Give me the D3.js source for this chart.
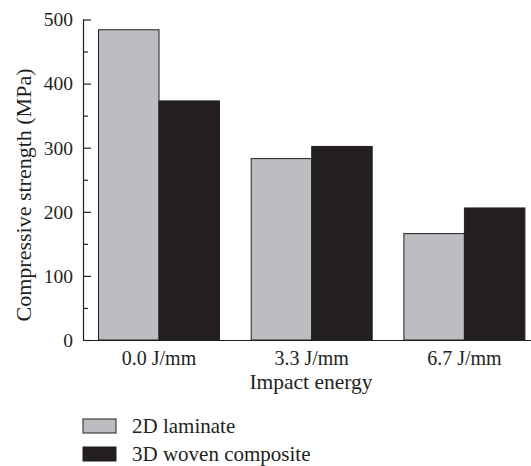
<!DOCTYPE html>
<html><head><meta charset="utf-8">
<script src="https://cdn.jsdelivr.net/npm/d3@7"></script>
<style>
html,body{margin:0;padding:0;background:#fff;}
svg{display:block;font-family:"Liberation Serif","DejaVu Serif",serif;}
</style></head>
<body>
<svg id="c" width="531" height="466"></svg>
<script>
const categories = ["0.0 J/mm", "3.3 J/mm", "6.7 J/mm"];
const seriesNames = ["2D laminate", "3D woven composite"];
const laminate2D = [484, 283, 166];
const woven3D = [373, 302, 206];
const yTicks = [0, 100, 200, 300, 400, 500];
const yMinorTicks = [50, 150, 250, 350, 450];
const colors = ["#bcbdc1", "#231f20"];

const svg = d3.select("#c");
const x0 = d3.scaleBand().domain(categories).range([83, 540.4]).paddingInner(0.2076).paddingOuter(0.1015);
const x1 = d3.scaleBand().domain(seriesNames).range([0, x0.bandwidth()]);
const y = d3.scaleLinear().domain([0, 500]).range([340, 19.5]);

const series = [laminate2D, woven3D];
const g = svg.append("g");
categories.forEach((c, i) => {
  series.forEach((s, j) => {
    g.append("rect")
      .attr("x", x0(c) + x1(seriesNames[j]))
      .attr("y", y(s[i]))
      .attr("width", x1.bandwidth())
      .attr("height", y(0) - y(s[i]))
      .attr("fill", colors[j])
      .attr("stroke", "#231f20")
      .attr("stroke-width", 1);
  });
});

// Y axis with inward ticks
const yAxis = d3.axisRight(y).tickValues(yTicks).tickSize(8).tickFormat("");
const ya = svg.append("g").attr("transform", "translate(83,0)").call(yAxis);
ya.select(".domain").attr("d", `M0.5,${y(500)}V${y(0)}`).attr("stroke", "#231f20").attr("stroke-width", 1.2);
ya.selectAll(".tick line").attr("stroke", "#231f20").attr("stroke-width", 1.2);
const yMinor = d3.axisRight(y).tickValues(yMinorTicks).tickSize(5).tickFormat("");
const ym = svg.append("g").attr("transform", "translate(83,0)").call(yMinor);
ym.select(".domain").remove();
ym.selectAll(".tick line").attr("stroke", "#231f20").attr("stroke-width", 1.2);
svg.append("g").selectAll("text").data(yTicks).join("text")
  .attr("x", 73).attr("y", d => y(d)).attr("dy", "0.35em")
  .attr("text-anchor", "end").attr("font-size", 19.5).attr("fill", "#231f20")
  .text(d => d);

// X axis
const xAxis = d3.axisBottom(x0).tickSize(0).tickFormat("");
const xa = svg.append("g").attr("transform", "translate(0,340)").call(xAxis);
xa.select(".domain").attr("d", "M83,0.5H540").attr("stroke", "#231f20").attr("stroke-width", 1.2);
svg.append("g").selectAll("text").data(categories).join("text")
  .attr("x", d => x0(d) + x0.bandwidth() / 2).attr("y", 365)
  .attr("text-anchor", "middle").attr("font-size", 20).attr("fill", "#231f20")
  .text(d => d);

svg.append("text").attr("x", 311).attr("y", 389).attr("text-anchor", "middle")
  .attr("font-size", 21.5).attr("fill", "#231f20").text("Impact energy");
svg.append("text").attr("transform", "translate(31,195) rotate(-90)").attr("text-anchor", "middle")
  .attr("font-size", 22).attr("fill", "#231f20").text("Compressive strength (MPa)");

// Legend
const lg = svg.append("g");
seriesNames.forEach((n, j) => {
  lg.append("rect").attr("x", 83).attr("y", 419 + j * 28).attr("width", 33).attr("height", 14)
    .attr("fill", colors[j]).attr("stroke", "#231f20").attr("stroke-width", 1);
  lg.append("text").attr("x", 132).attr("y", 433 + j * 28).attr("font-size", 21)
    .attr("fill", "#231f20").text(n);
});
</script>
</body></html>
